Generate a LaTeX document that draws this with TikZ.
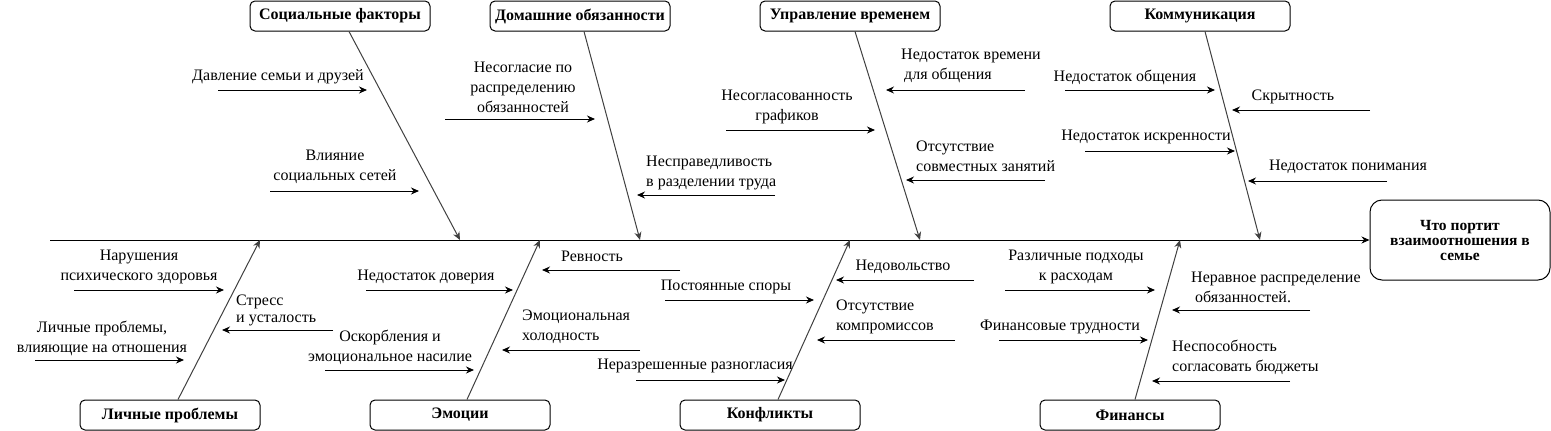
\documentclass[tikz,border=0pt]{standalone}
\usepackage{fontspec}
\setmainfont{Liberation Serif}
\usetikzlibrary{arrows.meta}
\begin{document}
\begin{tikzpicture}[x=1pt,y=-1pt,
  cat/.style={draw, rounded corners=5pt, minimum width=180pt, minimum height=30pt, inner sep=0pt,
    font=\fontsize{16}{18}\selectfont\bfseries, line width=1pt},
  lbl/.style={inner sep=0pt, font=\fontsize{16}{20}\selectfont, align=center},
  lbll/.style={inner sep=0pt, font=\fontsize{16}{20}\selectfont, align=left, anchor=west},
  cause/.style={-{Stealth[length=8pt,width=7pt]}, line width=1pt},
  bone/.style={-{Stealth[length=8pt,width=7pt]}, line width=1pt, draw=black!75}]
\useasboundingbox (0,0) rectangle (1551,431);

% effect box and spine
\node[draw, rounded corners=12pt, minimum width=180pt, minimum height=80pt, line width=1pt,
  inner sep=0pt, align=center, font=\fontsize{15.5}{15}\selectfont\bfseries] (eff) at (1460,240)
  {Что портит\\взаимоотношения в\\семье};
\coordinate (tail) at (50,240);
\draw[cause] (tail) -- (eff.west);

% category boxes
\node[cat] (soc)  at (340,16)  {Социальные факторы};
\node[cat] (dom)  at (580,16)  {Домашние обязанности};
\node[cat] (time) at (850,16)  {Управление временем};
\node[cat] (comm) at (1200,16) {Коммуникация};
\node[cat] (pers) at (170,415) {Личные проблемы};
\node[cat] (emo)  at (460,415) {Эмоции};
\node[cat] (conf) at (770,415) {Конфликты};
\node[cat] (fin)  at (1130,415) {Финансы};

% bones
\coordinate (s1) at (460,240);
\coordinate (s2) at (640,240);
\coordinate (s3) at (920,240);
\coordinate (s4) at (1260,240);
\coordinate (s5) at (260,240);
\coordinate (s6) at (540,240);
\coordinate (s7) at (850,240);
\coordinate (s8) at (1180,240);
\draw[bone] ([xshift=9pt]soc.south) -- (s1);
\draw[bone] ([xshift=4pt]dom.south) -- (s2);
\draw[bone] ([xshift=5pt]time.south) -- (s3);
\draw[bone] ([xshift=5pt]comm.south) -- (s4);
\draw[bone] ([xshift=8pt]pers.north) -- (s5);
\draw[bone] ([xshift=7pt]emo.north) -- (s6);
\draw[bone] ([xshift=8pt]conf.north) -- (s7);
\draw[bone] ([xshift=5pt]fin.north) -- (s8);

% cause arrows
\foreach \n/\xa/\xb/\yy in {
  1/218/367/90, 2/270/419/191, 3/445/595/119, 4/775/637/195,
  5/726/875/130, 6/1025/886/90, 7/1045/906/180,
  8/1065/1215/90, 9/1370/1232/110, 10/1085/1235/151, 11/1387/1248/181,
  12/74/224/290, 13/333/222/330, 14/35/184/360,
  15/366/513/290, 16/325/474/370, 17/680/542/270, 18/640/502/350,
  19/665/814/300, 20/636/785/380, 21/974/836/280, 22/955/817/340,
  23/1005/1155/290, 24/999/1148/340, 25/1310/1172/310, 26/1290/1152/381}{
  \coordinate (a\n) at (\xa,\yy);
  \coordinate (b\n) at (\xb,\yy);
  \draw[cause] (a\n) -- (b\n);
}

% labels
\node[lbl]  (l1)  at (278,77)   {Давление семьи и друзей};
\node[lbl]  (l2)  at (335,167)  {Влияние\\социальных сетей};
\node[lbl]  (l3)  at (523,87)   {Несогласие по\\распределению\\обязанностей};
\node[lbll] (l4)  at (646,173)  {Несправедливость\\в разделении труда};
\node[lbl]  (l5)  at (787,107)  {Несогласованность\\графиков};
\node[lbll] (l6)  at (901,66)   {Недостаток времени\\\hspace{3pt}для общения};
\node[lbll] (l7)  at (916,156)  {Отсутствие\\совместных занятий};
\node[lbl]  (l8)  at (1125,77)  {Недостаток общения};
\node[lbl]  (l9)  at (1293,97)  {Скрытность};
\node[lbl]  (l10) at (1146,137) {Недостаток искренности};
\node[lbl]  (l11) at (1348,167) {Недостаток понимания};
\node[lbl]  (l12) at (139,267)  {Нарушения\\психического здоровья};
\node[lbll, font=\fontsize{16}{17}\selectfont] (l13) at (236,310) {Стресс\\и усталость};
\node[lbl]  (l14) at (102,338)  {Личные проблемы,\\влияющие на отношения};
\node[lbl]  (l15) at (426,277)  {Недостаток доверия};
\node[lbl]  (l16) at (390,347)  {Оскорбления и\\эмоциональное насилие};
\node[lbl]  (l17) at (592,256)  {Ревность};
\node[lbll] (l18) at (522,327)  {Эмоциональная\\холодность};
\node[lbl]  (l19) at (726,287)  {Постоянные споры};
\node[lbl]  (l20) at (695,366)  {Неразрешенные разногласия};
\node[lbl]  (l21) at (903,267)  {Недовольство};
\node[lbll] (l22) at (836,317)  {Отсутствие\\компромиссов};
\node[lbl]  (l23) at (1076,267) {Различные подходы\\к расходам};
\node[lbl]  (l24) at (1060,327) {Финансовые трудности};
\node[lbll] (l25) at (1191,287) {Неравное распределение\\\hspace{4pt}обязанностей.};
\node[lbll] (l26) at (1172,357) {Неспособность\\согласовать бюджеты};
\end{tikzpicture}
\end{document}
